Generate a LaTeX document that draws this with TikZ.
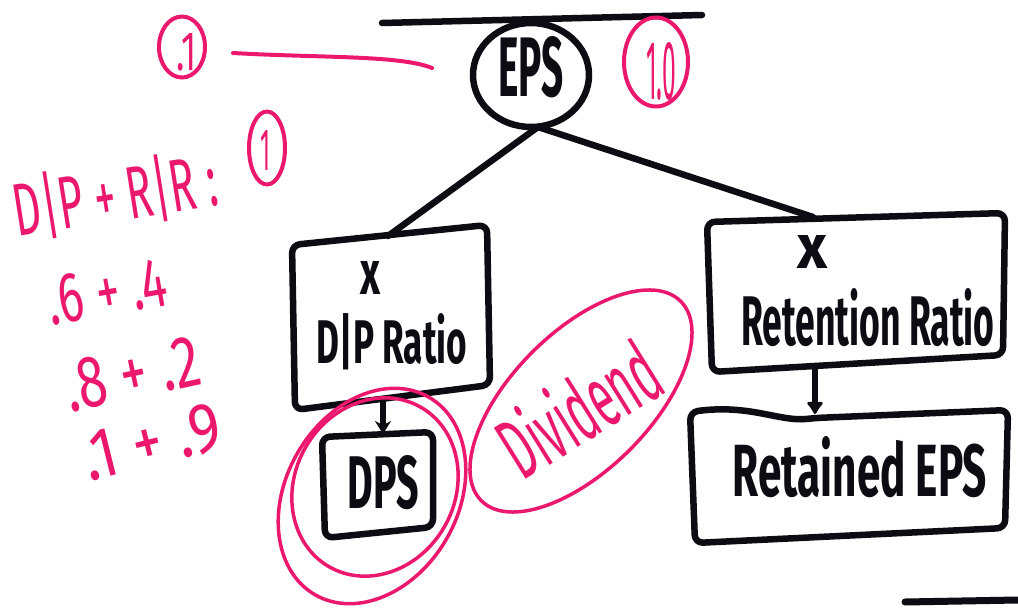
\documentclass[tikz,border=0pt]{standalone}
\usepackage{fontspec}
\setmainfont{Fira Sans}
\usepackage{graphicx}
\usetikzlibrary{shapes.geometric,arrows.meta}
\definecolor{pen}{RGB}{236,24,110}
\definecolor{ink}{RGB}{12,12,18}
\newcommand{\hw}[3]{\resizebox{#1pt}{#2pt}{\bfseries #3}}
\newcommand{\hwr}[3]{\resizebox{#1pt}{#2pt}{\fontseries{m}\selectfont #3}}
\begin{document}
\begin{tikzpicture}[x=1pt,y=-1pt,
  blk/.style={draw=ink,line width=6.5pt,line cap=round,line join=round},
  redl/.style={draw=pen,line width=4pt,line cap=round,line join=round},
  thinred/.style={draw=pen,line width=3.5pt},
  boxln/.style={blk,rounded corners=8pt},
  lbl/.style={inner sep=0pt,text=ink},
  rlbl/.style={inner sep=0pt,text=pen},
  arr/.style={blk,-{Stealth[length=13pt,width=16pt]}},
  arrb/.style={blk,-{Latex[round,length=14pt,width=20pt]}}]
\useasboundingbox (0,0) rectangle (1018,608);
\fill[white] (0,0) rectangle (1018,608);

% top and bottom strokes
\draw[blk] (382,23) -- (702,15);
\draw[blk,line width=7pt] (905,602) -- (1018,600);

% EPS
\node[ellipse,draw=ink,line width=6.5pt,minimum width=116pt,minimum height=104pt,inner sep=0pt] (eps) at (531,75) {};
\node[lbl] (epst) at (531,67) {\hw{65}{60}{EPS}};
\coordinate (epsB) at (538,127);

% D/P box
\coordinate (dpT) at (388,236);
\coordinate (dpB) at (383,399);
\draw[boxln] (292,245) -- (487,225) -- (490,385) -- (295,410) -- cycle;
\node[lbl] (dpx) at (370,278) {\hw{20}{33}{x}};
\node[lbl] (dpt) at (392,342) {\hw{150}{50}{D|P Ratio}};

% DPS box
\coordinate (dpsT) at (383,434);
\draw[boxln] (322,437) -- (433,432) -- (433,527) -- (325,538) -- cycle;
\node[lbl] (dps) at (383,483) {\hw{71}{53}{DPS}};

% Retention box
\coordinate (rrT) at (813,217);
\coordinate (rrB) at (815,366);
\draw[boxln] (707,222) -- (1005,213) -- (1003,355) -- (712,372) -- cycle;
\node[lbl] (rrx) at (812,252) {\hw{30}{33}{x}};
\node[lbl] (rrt) at (868,318) {\hw{253}{57}{Retention Ratio}};

% Retained EPS box
\coordinate (reT) at (815,414);
\draw[boxln] (690,412) .. controls (750,404) and (780,422) .. (815,418) -- (1008,410) -- (1005,528) -- (695,543) -- cycle;
\node[lbl] (ret) at (860,467) {\hw{254}{60}{Retained EPS}};

% connectors
\draw[blk] (epsB) -- (dpT);
\draw[blk] (epsB) -- (rrT);
\draw[arr] (dpB) -- (dpsT);
\draw[arrb] (rrB) -- (reT);

% red annotations
\node[ellipse,draw=pen,line width=4pt,minimum width=46pt,minimum height=61pt,inner sep=0pt] (c1) at (182,47) {};
\node[rlbl] (c1t) at (187,52) {\hwr{20}{37}{.1}};
\coordinate (l1a) at (233,53);
\coordinate (l1b) at (432,68);
\draw[redl] (l1a) .. controls (320,58) and (400,55) .. (l1b);

\node[ellipse,draw=pen,line width=4pt,minimum width=64pt,minimum height=89pt,inner sep=0pt] (c10) at (656,62) {};
\node[rlbl] (c10t) at (661,71) {\hwr{30}{57}{1.0}};

\node[rlbl,rotate=9] (sum) at (115,195) {\hwr{205}{60}{D|P + R|R :}};
\node[ellipse,draw=pen,line width=4pt,minimum width=36pt,minimum height=73pt,inner sep=0pt] (cone) at (267,148) {};
\node[rlbl] (conet) at (265,150) {\hwr{10}{40}{1}};

\node[rlbl,rotate=10] (r1) at (107,292) {\hwr{120}{48}{.6 + .4}};
\node[rlbl,rotate=12] (r2) at (132,374) {\hwr{137}{50}{.8 + .2}};
\node[rlbl,rotate=14] (r3) at (152,442) {\hwr{140}{48}{.1 + .9}};

% loops around DPS
\draw[thinred] (372,496) ellipse [x radius=114pt, y radius=86pt, rotate=60];
\draw[thinred] (375,487) ellipse [x radius=92pt, y radius=80pt, rotate=60];

% Dividend
\draw[thinred] (581,401) ellipse [x radius=141pt, y radius=69pt, rotate=45];
\node[rlbl,rotate=32] (div) at (578,408) {\hwr{172}{68}{Dividend}};
\end{tikzpicture}
\end{document}
